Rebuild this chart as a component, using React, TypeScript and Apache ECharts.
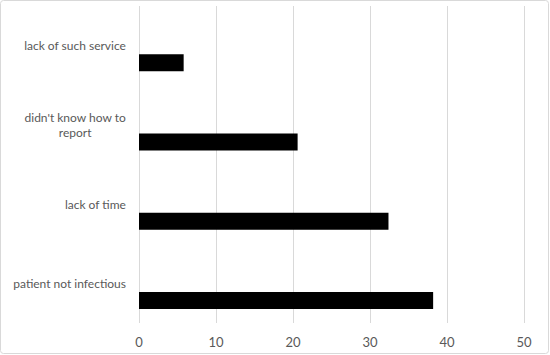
import React, { useEffect, useRef } from "react";
import * as echarts from "echarts";

const categories = [
  "patient not infectious",
  "lack of time",
  "didn't know how to\nreport",
  "lack of such service",
];
const values = [38.2, 32.4, 20.6, 5.8];
const placeholder = ["-", "-", "-", "-"];
const xTicks = { min: 0, max: 50, interval: 10 };

export default function App() {
  const ref = useRef<HTMLDivElement>(null);
  useEffect(() => {
    document.body.style.margin = "0";
    const chart = echarts.init(ref.current!, null, { renderer: "svg" });
    const font = "Lato";
    const fs = 12;
    chart.setOption({
      animation: false,
      textStyle: { fontFamily: font },
      graphic: [
        {
          type: "rect",
          shape: { x: 0.5, y: 0.5, width: 548, height: 353, r: 3 },
          style: { fill: "none", stroke: "#d9d9d9", lineWidth: 1 },
          silent: true,
        },
      ],
      grid: { left: 139, right: 26, top: 6, bottom: 32, containLabel: false },
      xAxis: {
        type: "value",
        min: xTicks.min,
        max: xTicks.max,
        interval: xTicks.interval,
        axisLine: { show: false },
        axisTick: { show: false },
        splitLine: { lineStyle: { color: "#d9d9d9", width: 1 } },
        axisLabel: { color: "#595959", fontSize: 13, fontFamily: font, margin: 12 },
      },
      yAxis: {
        type: "category",
        data: categories,
        axisLine: { show: false },
        axisTick: { show: false },
        axisLabel: {
          color: "#595959",
          fontSize: fs,
          fontFamily: font,
          margin: 13,
          align: "right",
          formatter: (v: string) =>
            v
              .split("\n")
              .map((l) => `{c|${l}}`)
              .join("\n"),
          rich: { c: { align: "center", color: "#595959", fontSize: fs, fontFamily: font, lineHeight: 15 } },
        },
      },
      series: [
        { type: "bar", data: placeholder, barWidth: 17, barGap: "100%", silent: true },
        {
          type: "bar",
          data: values,
          barWidth: 17,
          barGap: "100%",
          itemStyle: { color: "#000000" },
        },
      ],
    });
    return () => chart.dispose();
  }, []);
  return (
    <div
      ref={ref}
      style={{ position: "absolute", left: 0, top: 0, width: 550, height: 355 }}
    />
  );
}
